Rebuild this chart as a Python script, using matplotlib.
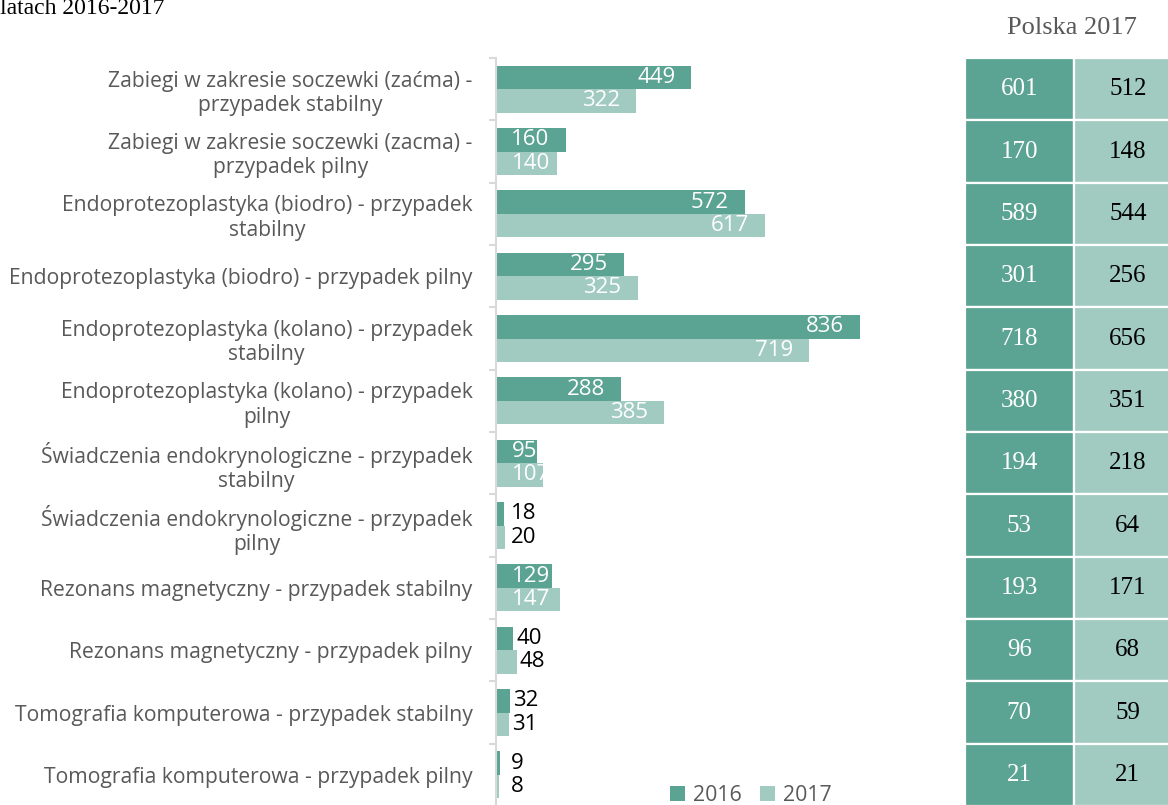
import matplotlib
matplotlib.use("Agg")
import matplotlib.pyplot as plt
import numpy as np

# dane
categories = [
    "Zabiegi w zakresie soczewki (zaćma) -\nprzypadek stabilny",
    "Zabiegi w zakresie soczewki (zacma) -\nprzypadek pilny",
    "Endoprotezoplastyka (biodro) - przypadek\nstabilny",
    "Endoprotezoplastyka (biodro) - przypadek pilny",
    "Endoprotezoplastyka (kolano) - przypadek\nstabilny",
    "Endoprotezoplastyka (kolano) - przypadek\npilny",
    "Świadczenia endokrynologiczne - przypadek\nstabilny",
    "Świadczenia endokrynologiczne - przypadek\npilny",
    "Rezonans magnetyczny - przypadek stabilny",
    "Rezonans magnetyczny - przypadek pilny",
    "Tomografia komputerowa - przypadek stabilny",
    "Tomografia komputerowa - przypadek pilny",
]
vals_2016 = [449, 160, 572, 295, 836, 288, 95, 18, 129, 40, 32, 9]
vals_2017 = [322, 140, 617, 325, 719, 385, 107, 20, 147, 48, 31, 8]
polska_2016 = [601, 170, 589, 301, 718, 380, 194, 53, 193, 96, 70, 21]
polska_2017 = [512, 148, 544, 256, 656, 351, 218, 64, 171, 68, 59, 21]
series_names = ["2016", "2017"]

DARK = "#5ba393"
LIGHT = "#a1cbc0"
GREY = "#595959"
SANS = "Open Sans"
SERIF = "Liberation Serif"

W, H = 1168, 805
fig = plt.figure(figsize=(W / 100, H / 100), dpi=100)

# glowny wykres
ax_left, ax_top, ax_bot = 496, 58, 806
px_per_unit = 0.4354
xmax = 1000
ax = fig.add_axes([ax_left / W, (H - ax_bot) / H, xmax * px_per_unit / W, (ax_bot - ax_top) / H])

n = len(categories)
y = np.arange(n)
bh = 0.375
ax.barh(y - bh / 2, vals_2016, height=bh, color=DARK, label=series_names[0])
ax.barh(y + bh / 2, vals_2017, height=bh, color=LIGHT, label=series_names[1])
ax.set_ylim(n - 0.5, -0.5)
ax.set_xlim(0, xmax)

pad = 16 / px_per_unit
for vals, off in ((vals_2016, -bh / 2), (vals_2017, bh / 2)):
    for i, v in enumerate(vals):
        if v < 60:
            ax.text(max(v + 7, 35), i + off, str(v), ha="left", va="center",
                    fontsize=16, family=SANS, color="black")
        elif v >= 157:
            ax.text(v - pad, i + off, str(v), ha="right", va="center",
                    fontsize=16, family=SANS, color="white")
        else:
            ax.text(37, i + off, str(v), ha="left", va="center",
                    fontsize=16, family=SANS, color="white")

ax.set_yticks(y)
ax.set_yticklabels(categories, fontsize=15.2, family=SANS, color=GREY,
                   multialignment="center", linespacing=1.2)
ax.tick_params(axis="y", which="major", length=0, pad=17)
ax.set_yticks(np.arange(-0.5, n, 1), minor=True)
ax.tick_params(axis="y", which="minor", length=5, color="#d9d9d9", width=1.5)
ax.set_xticks([])
for s in ("top", "right", "bottom"):
    ax.spines[s].set_visible(False)
ax.spines["left"].set_color("#d9d9d9")
ax.spines["left"].set_linewidth(1.5)

ax.legend(loc="center", bbox_to_anchor=(751 / W, 1 - 795 / H), bbox_transform=fig.transFigure,
          ncol=2, frameon=False, prop={"family": SANS, "size": 15.3}, handlelength=0.7,
          handleheight=0.7, columnspacing=0.85, handletextpad=0.4, labelcolor=GREY,
          borderpad=0, borderaxespad=0)

# tabela Polska 2017
tab_left, col_w = 965, 108.5
ax2 = fig.add_axes([tab_left / W, (H - ax_bot) / H, 2 * col_w / W, (ax_bot - ax_top) / H])
ax2.barh(y, 1, left=0, height=1, color=DARK, edgecolor="white", linewidth=1.6)
ax2.barh(y, 1, left=1, height=1, color=LIGHT, edgecolor="white", linewidth=1.6)
for i in range(n):
    ax2.text(0.5, i, str(polska_2016[i]), ha="center", va="center", color="white",
             fontsize=18, family=SERIF)
    ax2.text(1.5, i, str(polska_2017[i]), ha="center", va="center", color="black",
             fontsize=18, family=SERIF)
ax2.set_xlim(0, 2)
ax2.set_ylim(n - 0.5, -0.5)
ax2.axis("off")

fig.text(1072 / W, 1 - 28 / H, "Polska 2017", ha="center", va="center", color=GREY,
         fontsize=19, family=SERIF)
fig.text(165 / W, 1 - 8 / H, "latach 2016-2017", ha="right", va="center", color="black",
         fontsize=17, family=SERIF)

fig.savefig("out.png", dpi=100)
